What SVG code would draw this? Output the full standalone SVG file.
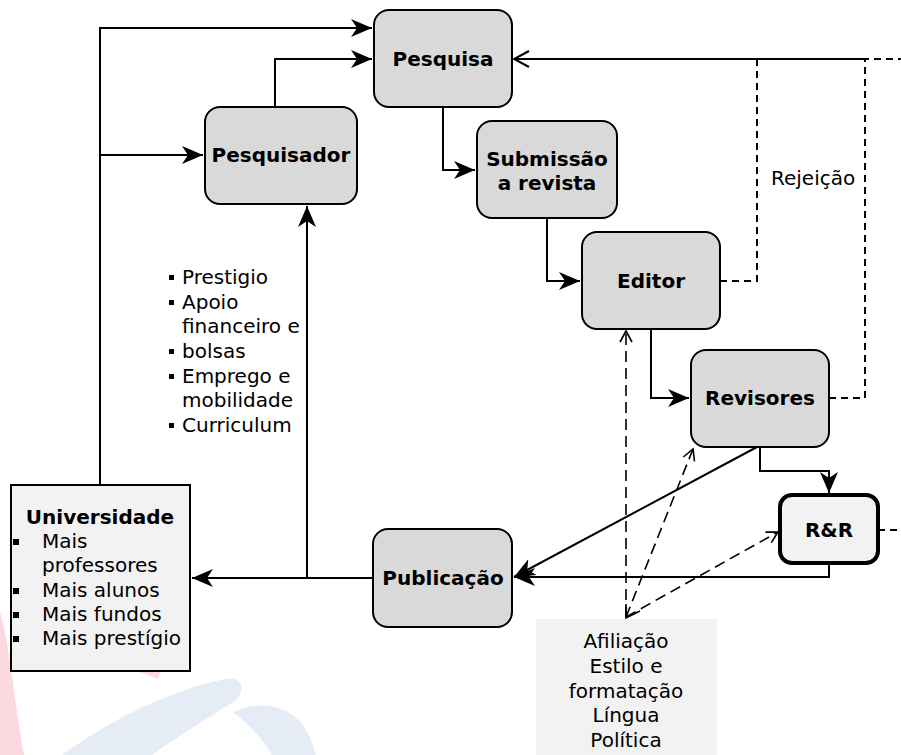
<svg xmlns="http://www.w3.org/2000/svg" width="901" height="755" viewBox="0 0 901 755">
<style>
  text { font-family: "DejaVu Sans", Verdana, sans-serif; font-size: 20px; fill: #000; }
  .b { font-weight: bold; }
  .node { fill: #d9d9d9; stroke: #000; stroke-width: 2; }
  .light { fill: #f2f2f2; stroke: #000; stroke-width: 2; }
  .conn { fill: none; stroke: #000; stroke-width: 2; }
  .rej { fill: none; stroke: #000; stroke-width: 2; stroke-dasharray: 7 5; }
  .inf { fill: none; stroke: #000; stroke-width: 1.6; stroke-dasharray: 11 6; }
</style>
<defs>
  <marker id="arr" markerUnits="userSpaceOnUse" markerWidth="22" markerHeight="20" viewBox="0 0 22 20" refX="21" refY="10" orient="auto">
    <path d="M0,1 L21,10 L0,19 L6,10 Z" fill="#000"/>
  </marker>
  <marker id="open" markerUnits="userSpaceOnUse" markerWidth="18" markerHeight="18" viewBox="0 0 18 18" refX="16" refY="9" orient="auto">
    <path d="M1,1 L16,9 L1,17" fill="none" stroke="#000" stroke-width="2"/>
  </marker>
  <marker id="openS" markerUnits="userSpaceOnUse" markerWidth="14" markerHeight="14" viewBox="0 0 14 14" refX="12" refY="7" orient="auto">
    <path d="M1,1 L12,7 L1,13" fill="none" stroke="#000" stroke-width="1.6"/>
  </marker>
</defs>
<rect width="901" height="755" fill="#fff"/>

<!-- faint watermark -->
<g id="watermark">
  <path d="M0,612 C9,640 14,700 24,755 L0,755 Z" fill="#fcd9df"/>
  <path d="M140,672 L162,667 L158,679 Z" fill="#fcd9df"/>
  <path d="M62,755 C110,720 170,690 226,679 C242,676 246,690 236,700 C205,720 175,738 152,755 Z" fill="#e6ecf6"/>
  <path d="M233,712 C258,700 287,705 302,724 C309,734 313,745 316,755 L272,755 C263,740 250,725 233,712 Z" fill="#e6ecf6"/>
</g>

<g id="connectors">
  <path class="conn" d="M100,485 V28 H372" marker-end="url(#arr)"/>
  <path class="conn" d="M100,155 H203" marker-end="url(#arr)"/>
  <path class="conn" d="M275,107 V59 H372" marker-end="url(#arr)"/>
  <path class="conn" d="M443,107 V170 H475" marker-end="url(#arr)"/>
  <path class="conn" d="M547,218 V281 H580" marker-end="url(#arr)"/>
  <path class="conn" d="M651,329 V398 H689" marker-end="url(#arr)"/>
  <path class="conn" d="M760,447 V471 H829 V493" marker-end="url(#arr)"/>
  <path class="conn" d="M757,447 L514,577" marker-end="url(#arr)"/>
  <path class="conn" d="M829,563 V577 H514" marker-end="url(#arr)"/>
  <path class="conn" d="M373,578 H192" marker-end="url(#arr)"/>
  <path class="conn" d="M307,578 V206" marker-end="url(#arr)"/>
  <path class="conn" d="M865,59 H514" marker-end="url(#open)"/>
  <path class="rej" d="M720,281 H757 V59"/>
  <path class="rej" d="M829,398 H865 V59 H901"/>
  <path class="rej" d="M878,530 H901"/>
  <path class="inf" d="M626,617 V331" marker-end="url(#openS)"/>
  <path class="inf" d="M626,617 L693,449" marker-end="url(#openS)"/>
  <path class="inf" d="M626,617 L778,532" marker-end="url(#openS)"/>
  <path d="M626,604 L626,618 L640,611" fill="none" stroke="#000" stroke-width="1.6"/>
  <text x="771" y="185">Rejeição</text>
</g>

<g id="pesquisa">
  <rect class="node" x="374" y="10" width="138" height="97" rx="15"/>
  <text class="b" x="443" y="66" text-anchor="middle">Pesquisa</text>
</g>
<g id="pesquisador">
  <rect class="node" x="205" y="107" width="152" height="97" rx="15"/>
  <text class="b" x="281" y="162" text-anchor="middle">Pesquisador</text>
</g>
<g id="submissao">
  <rect class="node" x="477" y="121" width="140" height="97" rx="15"/>
  <text class="b" x="547" y="166" text-anchor="middle">Submissão</text>
  <text class="b" x="547" y="190" text-anchor="middle">a revista</text>
</g>
<g id="editor">
  <rect class="node" x="582" y="232" width="138" height="97" rx="15"/>
  <text class="b" x="651" y="288" text-anchor="middle">Editor</text>
</g>
<g id="revisores">
  <rect class="node" x="691" y="350" width="138" height="97" rx="15"/>
  <text class="b" x="760" y="405" text-anchor="middle">Revisores</text>
</g>
<g id="rr">
  <rect x="780" y="495" width="98" height="68" rx="12" fill="#f2f2f2" stroke="#000" stroke-width="4"/>
  <text class="b" x="829" y="537" text-anchor="middle">R&amp;R</text>
</g>
<g id="publicacao">
  <rect class="node" x="373" y="529" width="139" height="98" rx="15"/>
  <text class="b" x="443" y="585" text-anchor="middle">Publicação</text>
</g>
<g id="universidade">
  <rect class="light" x="11" y="485" width="179" height="186"/>
  <text class="b" x="100" y="524" text-anchor="middle">Universidade</text>
  <rect x="13" y="539" width="6" height="6"/>
  <text x="42" y="548">Mais</text>
  <text x="42" y="572">professores</text>
  <rect x="13" y="588" width="6" height="6"/>
  <text x="42" y="597">Mais alunos</text>
  <rect x="13" y="612" width="6" height="6"/>
  <text x="42" y="621">Mais fundos</text>
  <rect x="13" y="636" width="6" height="6"/>
  <text x="42" y="645">Mais prestígio</text>
</g>
<g id="beneficios">
  <rect x="169" y="275" width="5" height="5"/>
  <text x="182" y="284">Prestigio</text>
  <rect x="169" y="300" width="5" height="5"/>
  <text x="182" y="309">Apoio</text>
  <text x="182" y="333">financeiro e</text>
  <rect x="169" y="349" width="5" height="5"/>
  <text x="182" y="358">bolsas</text>
  <rect x="169" y="374" width="5" height="5"/>
  <text x="182" y="383">Emprego e</text>
  <text x="182" y="407">mobilidade</text>
  <rect x="169" y="423" width="5" height="5"/>
  <text x="182" y="432">Curriculum</text>
</g>
<g id="fatores">
  <rect x="536" y="619" width="181" height="136" fill="#f2f2f2"/>
  <text x="626" y="648" text-anchor="middle">Afiliação</text>
  <text x="626" y="673" text-anchor="middle">Estilo e</text>
  <text x="626" y="698" text-anchor="middle">formatação</text>
  <text x="626" y="722" text-anchor="middle">Língua</text>
  <text x="626" y="747" text-anchor="middle">Política</text>
</g>
</svg>
